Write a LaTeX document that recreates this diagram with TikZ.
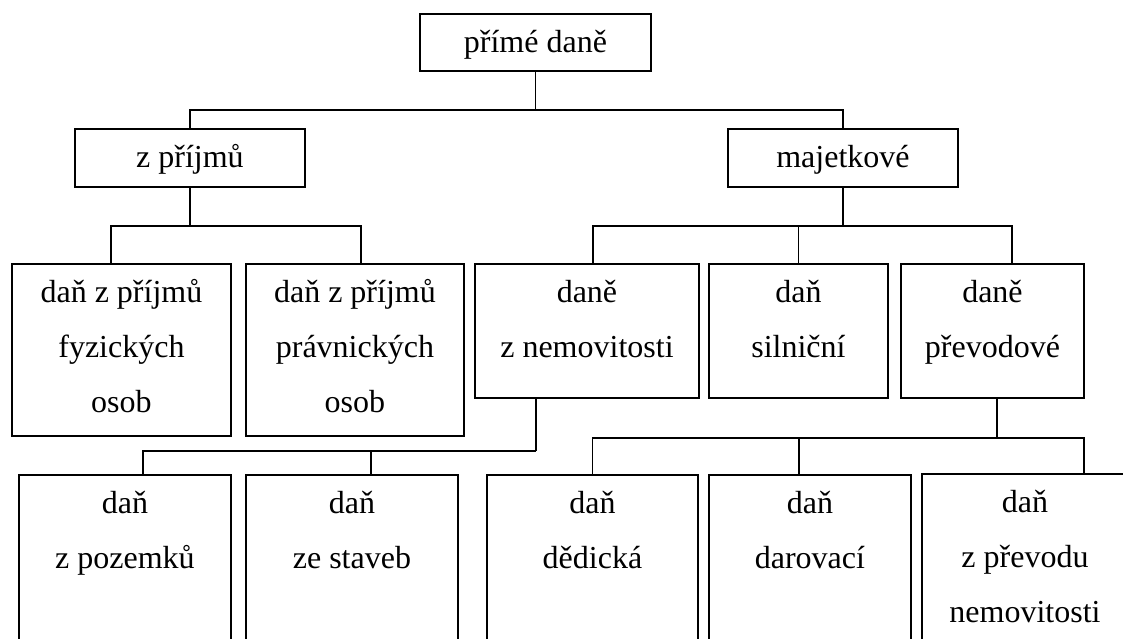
\documentclass[tikz,border=0pt]{standalone}
\usepackage{fontspec}
\setmainfont{Liberation Serif}
\newcommand{\boxtext}[3]{\parbox[t][#2][t]{#1}{\centering\strut#3}}

\begin{document}
\begin{tikzpicture}[
  x=1pt, y=-1pt,
  box/.style={draw, line width=1.9pt, inner sep=0pt, anchor=north west,
    font=\fontsize{32}{55}\selectfont},
  link/.style={line width=1.9pt}
]
  \useasboundingbox (0,0) rectangle (1123,638);
  \clip (0,0) rectangle (1123,638);

  \node[box] (prime)   at (419,13)  {\boxtext{231pt}{57pt}{přímé daně}};
  \node[box] (zprij)   at (74,128)  {\boxtext{230pt}{58pt}{z příjmů}};
  \node[box] (majet)   at (727,128) {\boxtext{230pt}{58pt}{majetkové}};

  \node[box] (fyz)     at (11,263)  {\boxtext{219pt}{172pt}{daň z příjmů\\fyzických\\osob}};
  \node[box] (prav)    at (245,263) {\boxtext{218pt}{172pt}{daň z příjmů\\právnických\\osob}};
  \node[box] (nemo)    at (474,263) {\boxtext{224pt}{134pt}{daně\\z nemovitosti}};
  \node[box] (silnic)  at (708,263) {\boxtext{179pt}{134pt}{daň\\silniční}};
  \node[box] (prevod)  at (900,263) {\boxtext{183pt}{134pt}{daně\\převodové}};

  \node[box] (pozem)   at (18,474)  {\boxtext{212pt}{190pt}{daň\\z pozemků}};
  \node[box] (staveb)  at (245,474) {\boxtext{212pt}{190pt}{daň\\ze staveb}};
  \node[box] (dedic)   at (486,474) {\boxtext{211pt}{190pt}{daň\\dědická}};
  \node[box] (darov)   at (708,474) {\boxtext{202pt}{190pt}{daň\\darovací}};
  \node[box] (prevnem) at (921,473) {\boxtext{206pt}{190pt}{daň\\z převodu\\nemovitosti}};

  % first split
  \draw[link] (prime.south) -- ++(0,38) coordinate (b0);
  \draw[link] (zprij.north) |- (b0) -| (majet.north);

  % income taxes
  \draw[link] (zprij.south) -- ++(0,38) coordinate (b1);
  \draw[link] ([xshift=-10.5pt]fyz.north) |- (b1) -| ([xshift=6pt]prav.north);

  % property taxes
  \draw[link] (majet.south) -- ++(0,38) coordinate (b2);
  \draw[link] ([xshift=6pt]nemo.north) |- (b2) -| ([xshift=19.5pt]prevod.north);
  \draw[link] (silnic.north) -- (silnic.north |- b2);

  % real estate
  \draw[link] ([xshift=-51pt]nemo.south) -- ++(0,52) coordinate (b3);
  \draw[link] ([xshift=18pt]pozem.north) |- (b3);
  \draw[link] ([xshift=19pt]staveb.north) -- ([xshift=19pt]staveb.north |- b3);

  % transfer taxes
  \draw[link] ([xshift=4.5pt]prevod.south) -- ++(0,39) coordinate (b4);
  \draw[link] (dedic.north) |- (b4) -| ([xshift=59pt]prevnem.north);
  \draw[link] ([xshift=-11pt]darov.north) -- ([xshift=-11pt]darov.north |- b4);
\end{tikzpicture}
\end{document}
